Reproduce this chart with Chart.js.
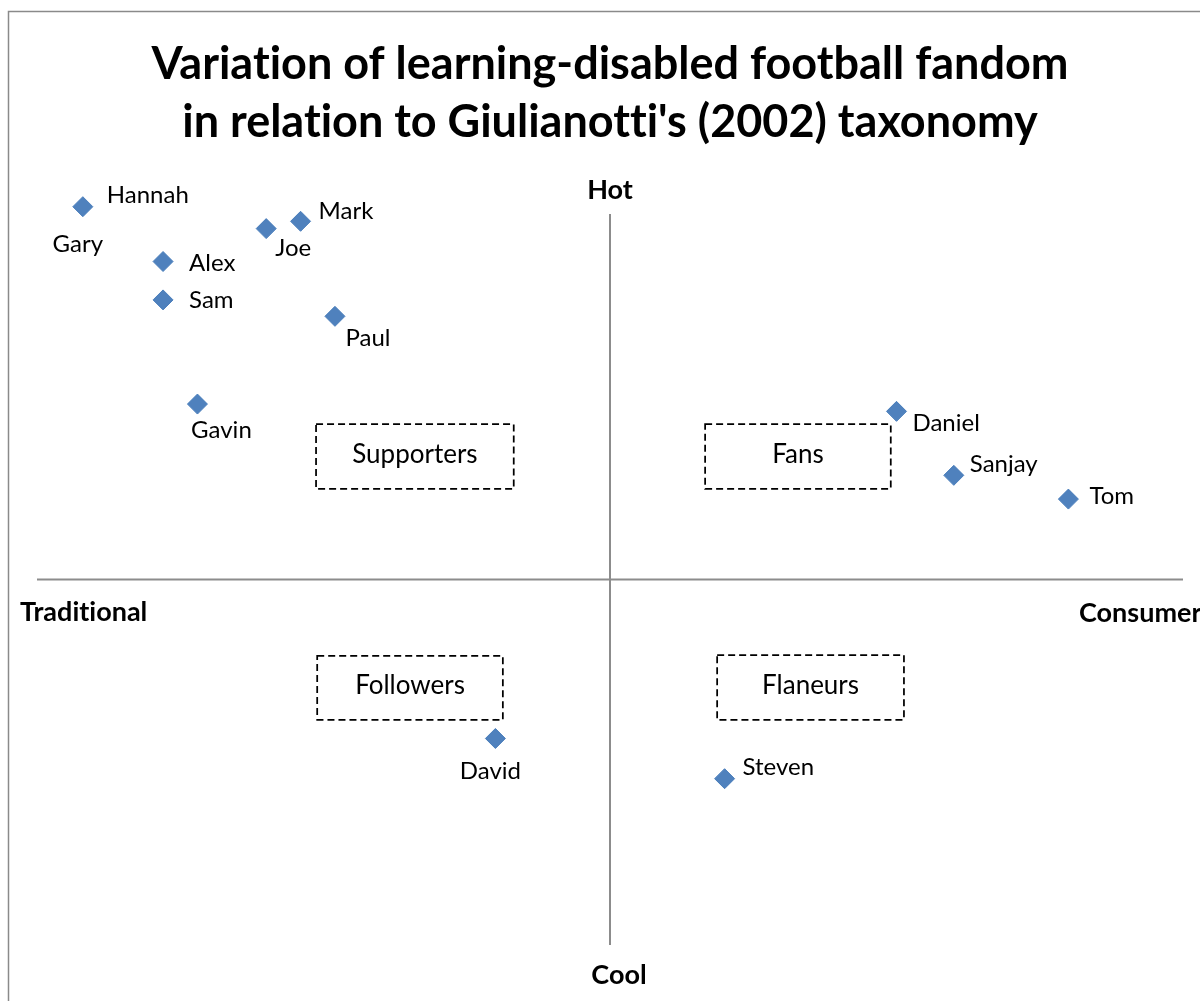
<!DOCTYPE html>
<html>
<head>
<meta charset="utf-8">
<script src="https://cdn.jsdelivr.net/npm/chart.js@4/dist/chart.umd.min.js"></script>
<style>
  html, body { margin: 0; padding: 0; background: #fff; }
  #wrap { position: relative; width: 1200px; height: 1001px; }
</style>
</head>
<body>
<div id="wrap"><canvas id="c" width="1200" height="1001"></canvas></div>
<script>
// ---- data ----
const names = ['Hannah','Gary','Mark','Joe','Alex','Sam','Paul','Gavin','Daniel','Sanjay','Tom','David','Steven'];
const xValues = [-9.2, -9.2, -5.4, -6.0, -7.8, -7.8, -4.8, -7.2, 5.0, 6.0, 8.0, -2.0, 2.0];
const yValues = [10.5, 10.2, 9.8, 9.6, 8.7, 7.65, 7.2, 4.8, 4.6, 2.85, 2.2, -4.35, -5.45];
const titleLines = ['Variation of learning-disabled football fandom', "in relation to Giulianotti's (2002) taxonomy"];
const quadrantNames = ['Supporters', 'Fans', 'Followers', 'Flaneurs'];
const axisEnds = { top: 'Hot', bottom: 'Cool', left: 'Traditional', right: 'Consumer' };

// ---- label placement (pixel offsets from point: align, dx, dy) ----
const labelPlacement = [
  ['left', 24, 0], ['center', -5, 38], ['left', 18, -10], ['center', 27, 20],
  ['left', 26, 2], ['left', 26, 0], ['center', 33, 22], ['center', 24, 26],
  ['left', 16, 12], ['left', 16, -11], ['left', 21, -3], ['center', -5, 33],
  ['left', 18, -11]
];
// quadrant boxes in data units [x1, x2, yTop, yBottom]
const quadrantBoxes = [
  [-5.13, -1.68, 4.25, 2.48],
  [1.66, 4.90, 4.25, 2.48],
  [-5.11, -1.87, -2.09, -3.84],
  [1.87, 5.13, -2.07, -3.84]
];

const FONT = 'Lato, "Open Sans", sans-serif';
const points = names.map((n, i) => ({ x: xValues[i], y: yValues[i], name: n }));

function noLig(ctx) {
  try { ctx.textRendering = 'optimizeSpeed'; } catch (e) {}
}

const decor = {
  id: 'decor',
  beforeDatasetsDraw(chart) {
    const { ctx, chartArea: a, scales: { x, y } } = chart;
    ctx.save();
    noLig(ctx);
    // outer border
    ctx.strokeStyle = '#8a8a8a';
    ctx.lineWidth = 1.5;
    ctx.strokeRect(8.5, 11.5, 1250, 1050);
    // title
    ctx.fillStyle = '#000';
    ctx.textAlign = 'center';
    ctx.textBaseline = 'alphabetic';
    ctx.font = 'bold 45px ' + FONT;
    ctx.fillText(titleLines[0], 610, 79);
    ctx.fillText(titleLines[1], 610, 137);
    // quadrant axes
    ctx.strokeStyle = '#8c8c8c';
    ctx.lineWidth = 2;
    ctx.beginPath();
    ctx.moveTo(x.getPixelForValue(-10), y.getPixelForValue(0));
    ctx.lineTo(x.getPixelForValue(10), y.getPixelForValue(0));
    ctx.moveTo(x.getPixelForValue(0), y.getPixelForValue(10));
    ctx.lineTo(x.getPixelForValue(0), y.getPixelForValue(-10));
    ctx.stroke();
    // axis end labels
    ctx.font = 'bold 27px ' + FONT;
    ctx.textBaseline = 'middle';
    ctx.textAlign = 'center';
    ctx.fillText(axisEnds.top, x.getPixelForValue(0), a.top - 24);
    ctx.fillText(axisEnds.bottom, x.getPixelForValue(0) + 9, a.bottom + 30);
    ctx.textAlign = 'left';
    ctx.fillText(axisEnds.left, 20, y.getPixelForValue(0) + 33);
    ctx.fillText(axisEnds.right, 1079, y.getPixelForValue(0) + 34);
    // quadrant boxes
    ctx.lineWidth = 1.75;
    ctx.strokeStyle = '#000';
    ctx.setLineDash([7, 4]);
    ctx.font = '26px ' + FONT;
    quadrantBoxes.forEach((b, i) => {
      const x1 = x.getPixelForValue(b[0]), x2 = x.getPixelForValue(b[1]);
      const y1 = y.getPixelForValue(b[2]), y2 = y.getPixelForValue(b[3]);
      ctx.strokeRect(x1, y1, x2 - x1, y2 - y1);
      ctx.textAlign = 'center';
      ctx.fillText(quadrantNames[i], (x1 + x2) / 2, (y1 + y2) / 2 - 2);
    });
    ctx.setLineDash([]);
    ctx.restore();
  },
  afterDatasetsDraw(chart) {
    const { ctx } = chart;
    const meta = chart.getDatasetMeta(0);
    ctx.save();
    noLig(ctx);
    ctx.fillStyle = '#000';
    ctx.font = '24px ' + FONT;
    ctx.textBaseline = 'middle';
    meta.data.forEach((el, i) => {
      const p = labelPlacement[i];
      ctx.textAlign = p[0];
      ctx.fillText(names[i], el.x + p[1], el.y + p[2]);
    });
    ctx.restore();
  }
};

new Chart(document.getElementById('c'), {
  type: 'scatter',
  data: {
    datasets: [{
      data: points,
      pointStyle: 'rectRot',
      pointRadius: 10,
      pointHoverRadius: 10,
      backgroundColor: '#4F81BD',
      borderColor: '#4A7EBB',
      borderWidth: 1,
      clip: false
    }]
  },
  options: {
    responsive: false,
    animation: false,
    events: [],
    layout: { padding: { left: 37, right: 17, top: 214, bottom: 56 } },
    plugins: { legend: { display: false }, title: { display: false }, tooltip: { enabled: false } },
    scales: {
      x: { type: 'linear', min: -10, max: 10, display: false },
      y: { type: 'linear', min: -10, max: 10, display: false }
    }
  },
  plugins: [decor]
});
</script>
</body>
</html>
